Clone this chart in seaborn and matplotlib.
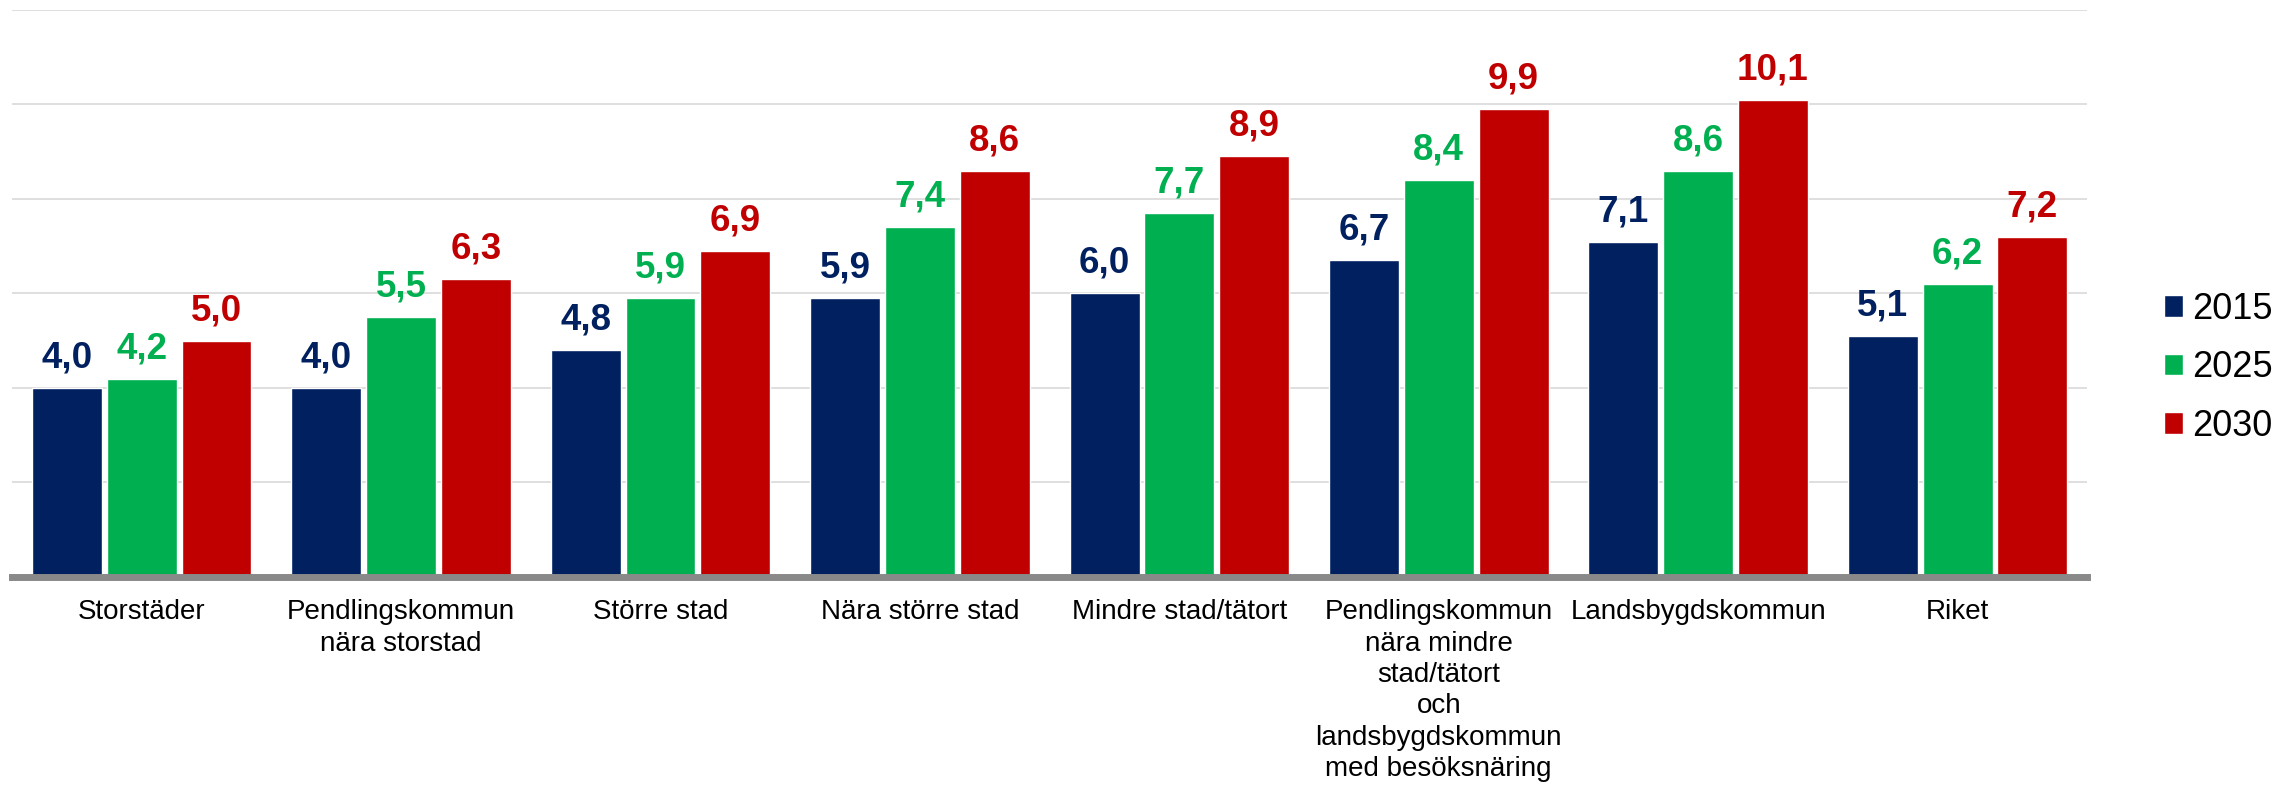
import pandas as pd
import seaborn as sns
import matplotlib.pyplot as plt

# Data
kategorier = ['Storstäder', 'Pendlingskommun\nnära storstad', 'Större stad', 'Nära större stad',
              'Mindre stad/tätort',
              'Pendlingskommun\nnära mindre\nstad/tätort\noch\nlandsbygdskommun\nmed besöksnäring',
              'Landsbygdskommun', 'Riket']
ar = ['2015', '2025', '2030']
v2015 = [4.0, 4.0, 4.8, 5.9, 6.0, 6.7, 7.1, 5.1]
v2025 = [4.2, 5.5, 5.9, 7.4, 7.7, 8.4, 8.6, 6.2]
v2030 = [5.0, 6.3, 6.9, 8.6, 8.9, 9.9, 10.1, 7.2]
farger = ['#002060', '#00B050', '#C00000']

df = pd.DataFrame({
    'kategori': kategorier * 3,
    'ar': [a for a in ar for _ in kategorier],
    'varde': v2015 + v2025 + v2030,
})

sns.set_style('white')
plt.rcParams['font.family'] = ['Liberation Sans', 'DejaVu Sans']
plt.rcParams['text.color'] = 'black'
plt.rcParams['xtick.color'] = 'black'

fig = plt.figure(figsize=(22.77, 7.86), dpi=100)
ax = fig.add_axes([0.00527, 0.2659, 0.9114, 0.7214])

sns.barplot(data=df, x='kategori', y='varde', hue='ar', palette=farger, saturation=1,
            width=0.865, gap=0.065, ax=ax, legend=True, zorder=3)

ax.set_ylim(0, 12)
ax.set_xlim(-0.5, 7.5)
ax.set_yticks(range(0, 13, 2))
ax.yaxis.grid(True, color='#d9d9d9', linewidth=1.2, zorder=0)
ax.set_axisbelow(True)
ax.set_yticklabels([])
ax.tick_params(axis='y', length=0)
ax.tick_params(axis='x', length=0, pad=16, labelsize=20, labelcolor='black')
for lbl in ax.get_xticklabels():
    lbl.set_linespacing(1.27)
    lbl.set_verticalalignment('top')
ax.set_xlabel('')
ax.set_ylabel('')

for s in ['top', 'left', 'right']:
    ax.spines[s].set_visible(False)
ax.spines['bottom'].set_color('#898989')
ax.spines['bottom'].set_linewidth(5)
ax.spines['bottom'].set_zorder(5)

# värdeetiketter
for cont, farg in zip(ax.containers, farger):
    etiketter = [f'{b.get_height():.1f}'.replace('.', ',') for b in cont]
    ax.bar_label(cont, labels=etiketter, padding=9, color=farg,
                 fontsize=26.5, fontweight='bold')

handles, labels = ax.get_legend_handles_labels()
leg = ax.legend(handles, labels, loc='center left', bbox_to_anchor=(0.9504, 0.532),
                bbox_transform=fig.transFigure, frameon=False, fontsize=26,
                handlelength=0.53, handleheight=0.53, handletextpad=0.25,
                labelspacing=0.65, borderaxespad=0, borderpad=0)
for t in leg.get_texts():
    t.set_color('black')

fig.savefig('out.png', dpi=100)
